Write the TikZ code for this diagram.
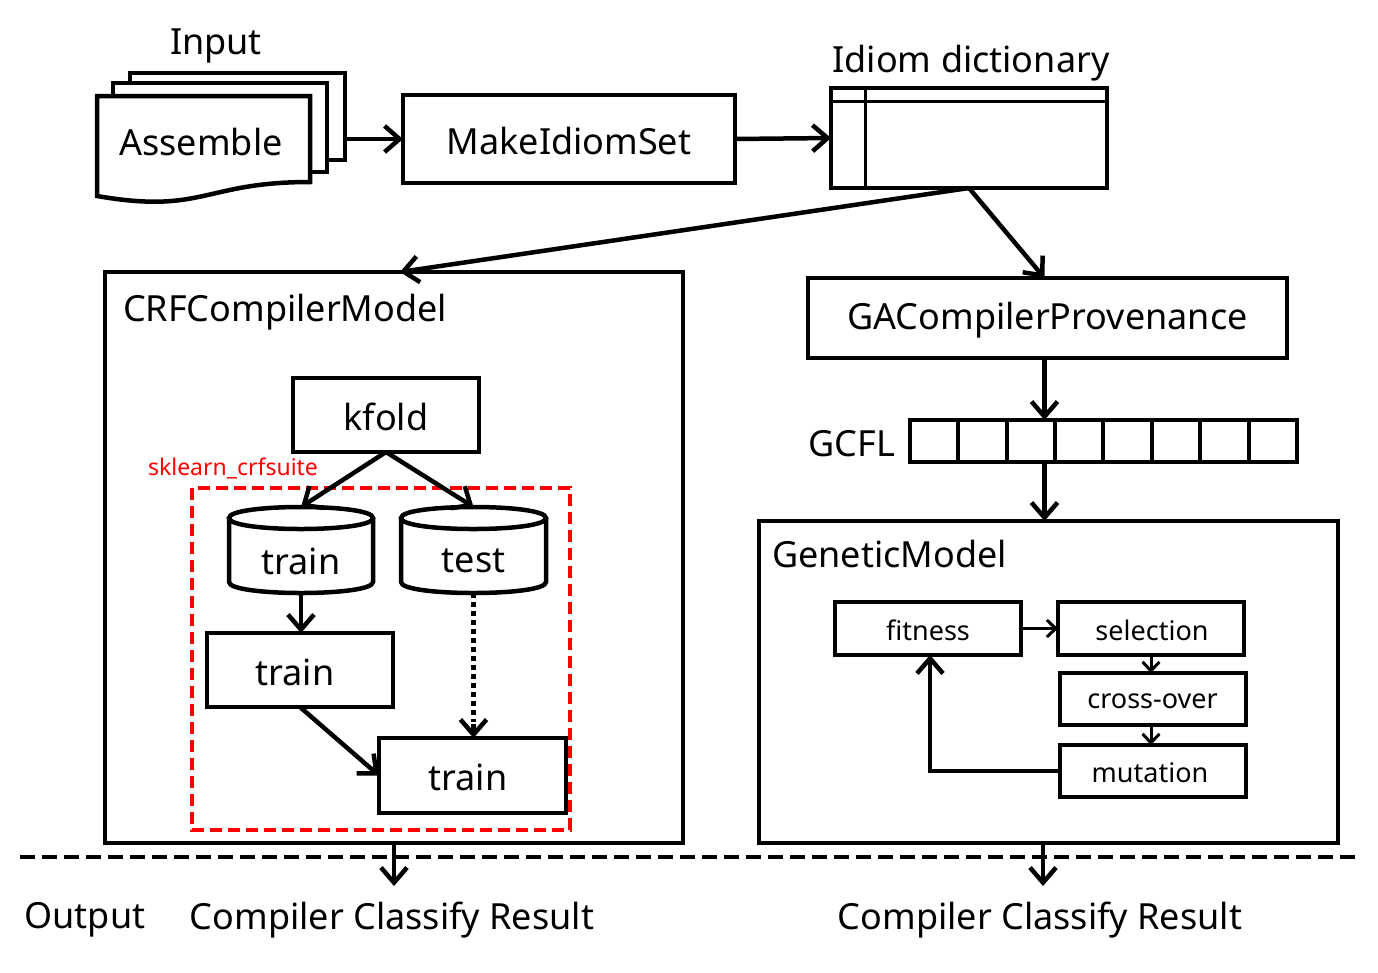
\documentclass[tikz,border=0pt]{standalone}
\usepackage{fontspec}
\setmainfont{Noto Sans}
\usetikzlibrary{arrows.meta,calc}
\begin{document}
\begin{tikzpicture}[x=1pt,y=-1pt,
 every node/.style={inner sep=0pt, outer sep=0pt},
 big/.style={font=\fontsize{36}{40}\selectfont},
 small/.style={font=\fontsize{27}{30}\selectfont},
 box/.style={draw, line width=4.5pt, big, rectangle},
 sbox/.style={draw, line width=4pt, small, rectangle, minimum width=186pt, minimum height=52pt},
 arr/.style={line width=4.5pt, -{Straight Barb[length=15pt,width=26pt]}},
 sarr/.style={line width=3pt, -{Straight Barb[length=9pt,width=17pt]}},
 thin2/.style={line width=3pt},
 wall/.style={line width=4.5pt, fill=white, line join=miter},
]
\useasboundingbox[fill=white] (0,0) rectangle (1378,972);

% ---------- Input document stack ----------
\node[big] (inlbl) at (216,46) {Input};
\draw[wall] (130,73) rectangle (345,160);
\draw[wall] (113,83) rectangle (327,172);
\draw[wall] (97,96) -- (310,96) -- (310,182) .. controls (203.5,182) and (203.5,214.5) .. (97,196) -- cycle;
\node[big] (asm) at (201,142) {Assemble};
\node[minimum width=215pt, minimum height=87pt] (stack) at (237.5,116.5) {};

% ---------- MakeIdiomSet ----------
\node[box, minimum width=332pt, minimum height=88pt] (msi) at (569,139) {};
\node[big] (msit) at (569,141) {MakeIdiomSet};
\draw[arr] (stack.east |- msi.west) -- (msi.west);

% ---------- Idiom dictionary ----------
\node[big] (dictlbl) at (971,63) {Idiom dictionary};
\node[box, minimum width=276pt, minimum height=100pt] (dict) at (969,138) {};
\draw[thin2] (dict.north west |- 0,101) -- (dict.north east |- 0,101);
\draw[thin2] (865,0 |- dict.north) -- (865,0 |- dict.south);
\draw[arr] (msi.east) -- (dict.west);

% ---------- CRFCompilerModel ----------
\node[box, minimum width=578pt, minimum height=571pt] (crf) at (394,557.5) {};
\node[big, anchor=west] (crflbl) at (123,312) {CRFCompilerModel};
\draw[arr] (dict.south) -- ([xshift=6pt]crf.north);

\node[box, minimum width=186pt, minimum height=74pt] (kfold) at (386,415) {};
\node[big] (kft) at (386,417) {kfold};
\node[font=\fontsize{23}{26}\selectfont, text=red] (sk) at (233,468) {sklearn\_crfsuite};
\draw[red, line width=3.5pt, dash pattern=on 12pt off 6pt] (192,488) rectangle (570,830);

% cylinders
\node[minimum width=144pt, minimum height=86pt] (trc) at (301,550) {};
\draw[wall] (229,518) -- (229,582) .. controls (229,596.67) and (373,596.67) .. (373,582) -- (373,518);
\draw[wall] (229,518) .. controls (229,503.33) and (373,503.33) .. (373,518) .. controls (373,532.67) and (229,532.67) .. (229,518) -- cycle;
\node[big] at (301,561) {train};

\node[minimum width=145pt, minimum height=86pt] (tsc) at (473.5,550) {};
\draw[wall] (401,518) -- (401,582) .. controls (401,596.67) and (546,596.67) .. (546,582) -- (546,518);
\draw[wall] (401,518) .. controls (401,503.33) and (546,503.33) .. (546,518) .. controls (546,532.67) and (401,532.67) .. (401,518) -- cycle;
\node[big] at (473.5,561) {test};

\node[box, minimum width=186pt, minimum height=74pt] (tr1) at (300,670) {};
\node[big] at (295,672) {train};
\node[box, minimum width=187pt, minimum height=75pt] (tr2) at (472.5,775.5) {};
\node[big] at (468,777) {train};

\draw[arr] (kfold.south) -- (trc.north);
\draw[arr] (kfold.south) -- (tsc.north);
\draw[arr] (trc.south) -- (trc.south |- tr1.north);
\draw[line width=5pt, dash pattern=on 5pt off 4pt] (tsc.south) -- ([yshift=16pt]tsc.south |- tr2.north);
\draw[arr] ([yshift=14pt]tsc.south |- tr2.north) -- (tsc.south |- tr2.north);
\draw[arr] (tr1.south) -- (tr2.west);

% ---------- GA side ----------
\node[box, minimum width=479pt, minimum height=80pt] (ga) at (1047.5,318) {};
\node[big] at (1047.5,320) {GACompilerProvenance};
\draw[arr] (dict.south) -- ([xshift=-3pt]ga.north);

\node[big] (gcfllbl) at (852,444) {GCFL};
\node[draw, line width=4.5pt, minimum width=387pt, minimum height=42pt] (gcfl) at (1103.5,441) {};
\foreach \xx in {958,1007,1055,1103,1152,1200,1249}
  \draw[line width=4.5pt] (\xx,0 |- gcfl.north) -- (\xx,0 |- gcfl.south);
\draw[arr] ([xshift=-3pt]ga.south) -- ([xshift=-3pt]ga.south |- gcfl.north);

\node[box, minimum width=579pt, minimum height=322pt] (gm) at (1048.5,682) {};
\node[big, anchor=west] (gmlbl) at (772,554) {GeneticModel};
\draw[arr] ([xshift=-3pt]ga.south |- gcfl.south) -- ([xshift=-3pt]ga.south |- gm.north);

\node[sbox, minimum height=53pt] (fit) at (928,628.5) {};
\node[small] at (928,630) {fitness};
\node[sbox, minimum height=53pt] (sel) at (1151,628.5) {};
\node[small] at (1152,630) {selection};
\node[sbox] (cro) at (1152.5,699) {};
\node[small] at (1152.5,701) {cross-over};
\node[sbox] (mut) at (1153,771) {};
\node[small] at (1150,773) {mutation};
\draw[sarr] (fit.east) -- (sel.west);
\draw[sarr] (sel.south) -- (sel.south |- cro.north);
\draw[sarr] (sel.south |- cro.south) -- (sel.south |- mut.north);
\draw[arr] (mut.west) -| ([xshift=2pt]fit.south);

% ---------- Output ----------
\draw[line width=4.5pt, dash pattern=on 15pt off 7pt] (20,857) coordinate (dl) -- (1360,857) coordinate (dr);
\node[big] (out1) at (392,920) {Compiler Classify Result};
\node[big] (out2) at (1040,920) {Compiler Classify Result};
\node[big] (outlbl) at (85,920) {Output};
\coordinate (o1) at (394,886);
\coordinate (o2) at (1043,886);
\draw[arr] (crf.south) -- (o1);
\draw[arr] (gm.south -| o2) -- (o2);
\end{tikzpicture}
\end{document}
